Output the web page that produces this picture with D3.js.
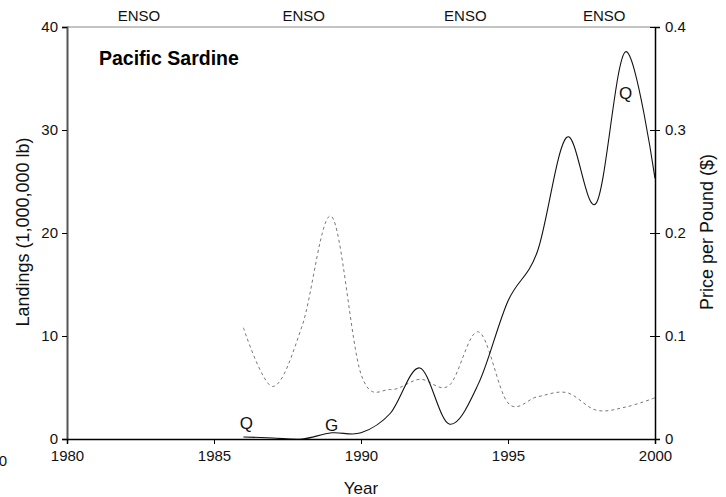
<!DOCTYPE html>
<html><head><meta charset="utf-8">
<script src="https://cdn.jsdelivr.net/npm/d3@7"></script>
<style>body{margin:0;background:#fff}text{font-family:"Liberation Sans",Arial,sans-serif}</style>
</head><body>
<svg id="c" width="726" height="497"></svg>
<script>
const years = [1986,1987,1988,1989,1990,1991,1992,1993,1994,1995,1996,1997,1998,1999,2000];
const landings = [0.2,0.1,0.0,0.6,0.6,2.5,6.9,1.45,5.4,13.4,18.2,29.3,22.9,37.6,25.3];
const price = [0.108,0.051,0.11,0.216,0.063,0.048,0.058,0.052,0.104,0.035,0.041,0.045,0.028,0.031,0.040];
const xTicks = [1980,1985,1990,1995,2000];
const leftTicks = [0,10,20,30,40];
const rightTicks = [0,0.1,0.2,0.3,0.4];
const ensoYears = [1982.45,1988.05,1993.55,1998.27];
const ensoLabel = "ENSO";
const pointLabels = [{t:"Q",year:1986.1,v:1.0},{t:"G",year:1989,v:0.8},{t:"Q",year:1999,v:33}];

const svg = d3.select("#c");
const m = {l:67,r:655,t:27,b:439};
const x = d3.scaleLinear().domain([1980,2000]).range([m.l,m.r]);
const yL = d3.scaleLinear().domain([0,40]).range([m.b,m.t]);
const yR = d3.scaleLinear().domain([0,0.4]).range([m.b,m.t]);

// top frame line
svg.append("line").attr("x1",m.l).attr("x2",m.r).attr("y1",m.t).attr("y2",m.t).attr("stroke","#888").attr("stroke-width",1);

// lines
const lineL = d3.line().x((d,i)=>x(years[i])).y(d=>yL(d)).curve(d3.curveCatmullRom.alpha(0));
const lineR = d3.line().x((d,i)=>x(years[i])).y(d=>yR(d)).curve(d3.curveCatmullRom.alpha(0));
svg.append("path").attr("d",lineR(price)).attr("fill","none").attr("stroke","#777").attr("stroke-width",1).attr("stroke-dasharray","3,3");
svg.append("path").attr("d",lineL(landings)).attr("fill","none").attr("stroke","#111").attr("stroke-width",1.1);

// left axis
const gL = svg.append("g").attr("transform",`translate(${m.l},0)`)
  .call(d3.axisLeft(yL).tickValues(leftTicks).tickSize(5).tickPadding(4).tickFormat(d3.format("d")));
gL.select(".domain").attr("stroke","#555").attr("stroke-width",2);
gL.selectAll("text").attr("font-size",15).attr("fill","#111");

// right axis
const gR = svg.append("g").attr("transform",`translate(${m.r},0)`)
  .call(d3.axisRight(yR).tickValues(rightTicks).tickSize(5).tickPadding(5).tickFormat(d=>d===0?"0":d3.format(".1f")(d)));
gR.select(".domain").attr("stroke","#000").attr("stroke-width",1.5);
gR.selectAll(".tick line").attr("x1",-5);
gR.selectAll("text").attr("font-size",15).attr("fill","#111");

// bottom axis
const gB = svg.append("g").attr("transform",`translate(0,${m.b})`)
  .call(d3.axisBottom(x).tickValues(xTicks).tickSize(5).tickPadding(6).tickFormat(d3.format("d")));
gB.select(".domain").attr("stroke","#000").attr("stroke-width",1.5);
gB.selectAll("text").attr("font-size",15).attr("fill","#111");

// stray partial label at far left (as in reference)
svg.append("text").attr("x",7).attr("y",466).attr("text-anchor","end").attr("font-size",15).attr("fill","#111").text("0");

// ENSO labels
svg.selectAll(".enso").data(ensoYears).enter().append("text")
  .attr("x",d=>x(d)).attr("y",21).attr("text-anchor","middle").attr("font-size",15).attr("fill","#111").text(ensoLabel);

// title
svg.append("text").attr("x",99).attr("y",65).attr("font-size",19.5).attr("font-weight","bold").attr("fill","#000").text("Pacific Sardine");

// point labels
svg.selectAll(".pl").data(pointLabels).enter().append("text")
  .attr("x",d=>x(d.year)).attr("y",d=>yL(d.v)).attr("text-anchor","middle").attr("font-size",17).attr("fill","#111").text(d=>d.t);

// axis titles
svg.append("text").attr("transform","translate(29,232) rotate(-90)").attr("text-anchor","middle").attr("font-size",18).attr("fill","#111").text("Landings (1,000,000 lb)");
svg.append("text").attr("transform","translate(713,232) rotate(-90)").attr("text-anchor","middle").attr("font-size",18).attr("fill","#111").text("Price per Pound ($)");
svg.append("text").attr("x",361).attr("y",494).attr("text-anchor","middle").attr("font-size",17).attr("fill","#111").text("Year");
</script>
</body></html>
